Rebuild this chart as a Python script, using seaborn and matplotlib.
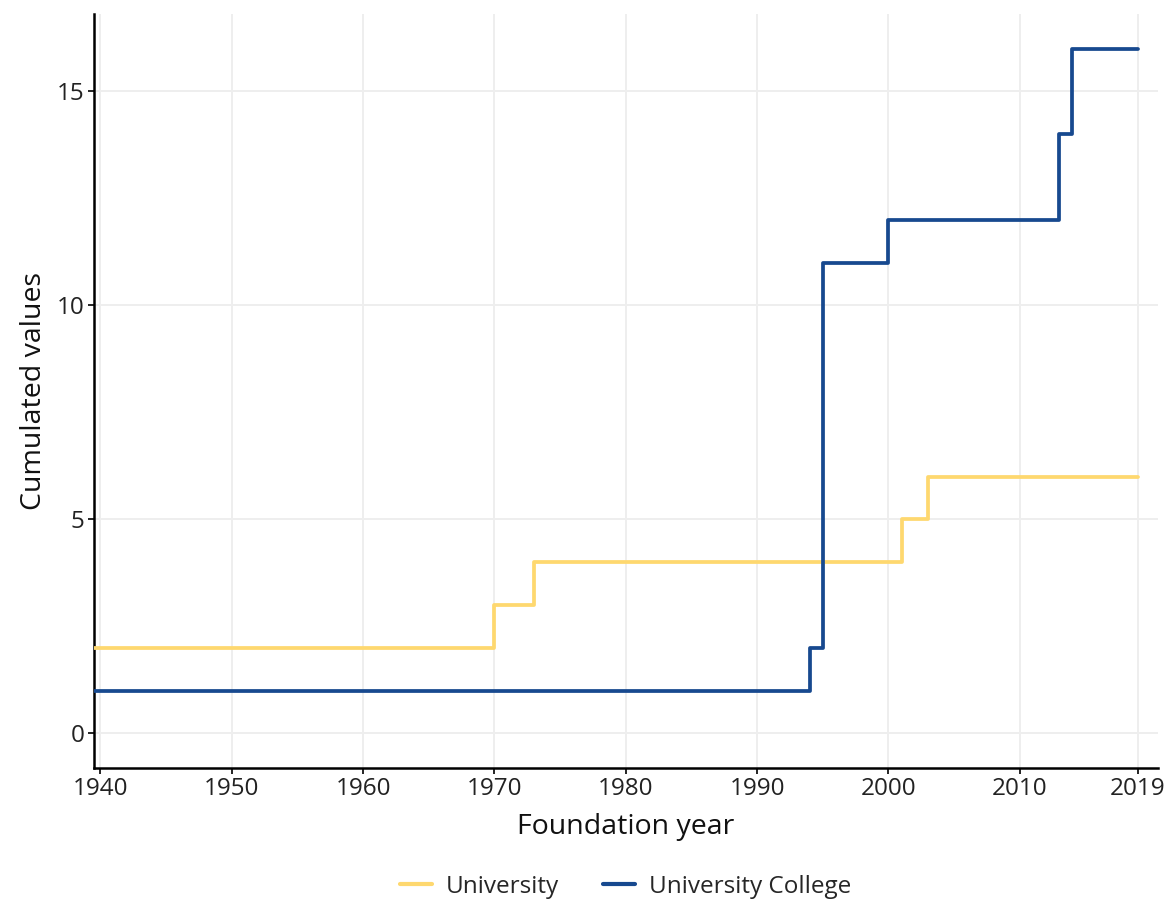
import pandas as pd
import matplotlib
matplotlib.use('Agg')
import matplotlib.pyplot as plt
import seaborn as sns

# data (cumulated count by foundation year)
uni_years = [1939, 1970, 1973, 2001, 2003, 2019]
uni_values = [2, 3, 4, 5, 6, 6]
uc_years = [1939, 1994, 1995, 2000, 2013, 2014, 2019]
uc_values = [1, 2, 11, 12, 14, 16, 16]

x_ticks = [1940, 1950, 1960, 1970, 1980, 1990, 2000, 2010, 2019]
y_ticks = [0, 5, 10, 15]

df = pd.concat([
    pd.DataFrame({'year': uni_years, 'value': uni_values, 'type': 'University'}),
    pd.DataFrame({'year': uc_years, 'value': uc_values, 'type': 'University College'}),
])

sns.set_theme(style='white')
plt.rcParams['font.family'] = ['Open Sans', 'DejaVu Sans']

fig = plt.figure(figsize=(11.74, 9), dpi=100)
ax = fig.add_axes([0.080, 0.147, 0.906, 0.837])

palette = {'University': '#fed86f', 'University College': '#17498f'}
sns.lineplot(data=df, x='year', y='value', hue='type', palette=palette,
             drawstyle='steps-post', linewidth=2.7, ax=ax, zorder=3)

ax.set_xlim(1939.5, 2020.5)
ax.set_ylim(-0.8, 16.8)
ax.set_xticks(x_ticks)
ax.set_yticks(y_ticks)
ax.grid(True, color='#eeeeee', linewidth=1.4)
ax.set_axisbelow(True)
for s in ['top', 'right']:
    ax.spines[s].set_visible(False)
for s in ['left', 'bottom']:
    ax.spines[s].set_color('black')
    ax.spines[s].set_linewidth(1.8)
ax.tick_params(axis='both', which='major', length=4, width=1.2, color='black',
               labelsize=17.5, labelcolor='#222222', pad=3, bottom=True, left=True)

ax.set_xlabel('Foundation year', fontsize=20.5, color='#111111', labelpad=8)
ax.set_ylabel('Cumulated values', fontsize=20.5, color='#111111', labelpad=6)

handles, labels = ax.get_legend_handles_labels()
for h in handles:
    h.set_linewidth(3)
ax.legend(handles, labels, loc='center', bbox_to_anchor=(0.5, -0.158),
          ncol=2, frameon=False, fontsize=17.5, handlelength=1.3,
          columnspacing=1.8, handletextpad=0.6)

fig.savefig('out.png', dpi=100)
